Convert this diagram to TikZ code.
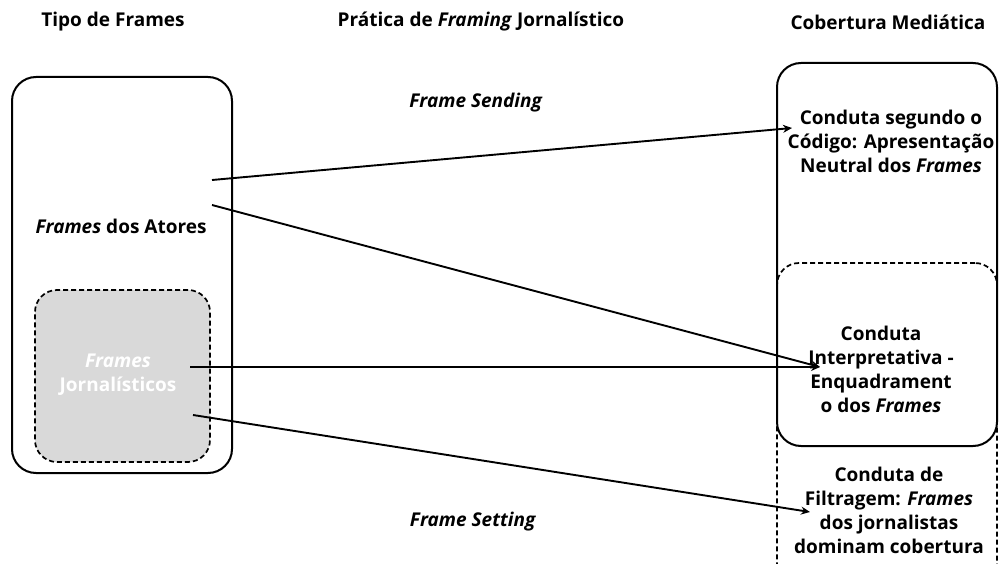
\documentclass[tikz,border=0pt]{standalone}
\usepackage{fontspec}
\setmainfont{Open Sans}
\usetikzlibrary{arrows.meta, positioning}

\begin{document}
\begin{tikzpicture}[x=1pt, y=-1pt,
  box/.style={draw, line width=2pt, rounded corners=24pt, inner sep=0pt},
  dbox/.style={draw, dashed, dash pattern=on 5pt off 3pt, line width=1.7pt, rounded corners=22pt, inner sep=0pt},
  txt/.style={font=\bfseries\fontsize{19}{24}\selectfont, align=center},
  head/.style={font=\bfseries\fontsize{19}{22}\selectfont},
  conn/.style={line width=1.9pt, -{Stealth[length=9pt, width=8pt]}}]
\useasboundingbox (0,0) rectangle (999,564);
\clip (0,0) rectangle (999,564);
% Column headings
\node[head] (h-tipo) at (113,22) {Tipo de Frames};
\node[head] (h-pratica) at (481,22) {Prática de \textit{Framing} Jornalístico};
\node[head] (h-cobertura) at (888,22) {Cobertura Mediática};
% Left column: types of frames
\node[box, minimum width=220pt, minimum height=396pt] (tipo) at (122,275) {};
\node[dbox, fill=gray!30, minimum width=175pt, minimum height=172pt] (jorn) at (122.5,376) {};
\node[txt] (atores) at (121,226) {\textit{Frames} dos Atores};
\node[txt, text=white] (jorn-txt) at (118,375) {\textit{Frames}\\Jornalísticos};
% Right column: media coverage
\node[box, minimum width=220pt, minimum height=383pt] (codigo) at (887,254.5) {};
\node[dbox, minimum width=220pt, minimum height=330pt] (filtro) at (887,428) {};
\node[txt] (codigo-txt) at (891,141) {Conduta segundo o\\Código: Apresentação\\Neutral dos \textit{Frames}};
\node[txt] (interp-txt) at (881,369) {Conduta\\Interpretativa -\\Enquadrament\\o dos \textit{Frames}};
\node[txt] (filtro-txt) at (889,510) {Conduta de\\Filtragem: \textit{Frames}\\dos jornalistas\\dominam cobertura};
% Practices
\node[txt] (sending) at (476,103) {\textit{Frame Sending}};
\node[txt] (setting) at (473,522) {\textit{Frame Setting}};
% Connector ends
\coordinate (atores-a) at (212,180);
\coordinate (atores-b) at (212,205);
\coordinate (jorn-a) at (190,367);
\coordinate (jorn-b) at (193,415);
\coordinate (codigo-in) at (792,128);
\coordinate (interp-in) at (820,367);
\coordinate (filtro-in) at (810,512);
% Arrows
\draw[conn] (atores-a) -- (codigo-in);
\draw[conn] (atores-b) -- (interp-in);
\draw[conn] (jorn-a) -- (interp-in);
\draw[conn] (jorn-b) -- (filtro-in);
\end{tikzpicture}
\end{document}
